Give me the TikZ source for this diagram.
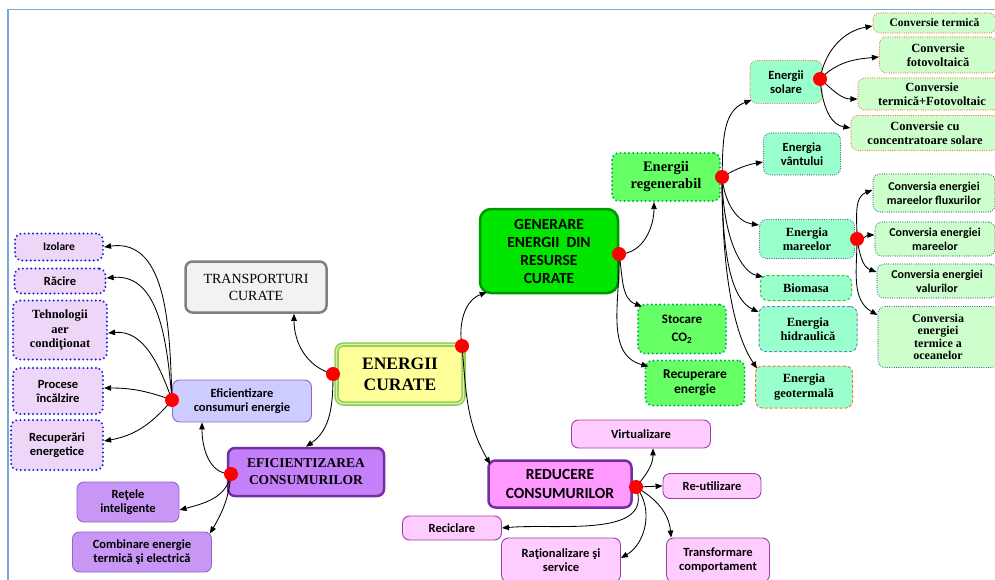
\documentclass[tikz,border=0pt]{standalone}
\usepackage{fontspec}
\setmainfont{Liberation Serif}
\setsansfont{Carlito}
\usetikzlibrary{arrows.meta}

% palette
\definecolor{frameblue}{RGB}{123,167,212}
\definecolor{dotblue}{RGB}{30,30,215}
\definecolor{lilac}{RGB}{238,214,248}
\definecolor{lavender}{RGB}{204,204,255}
\definecolor{lavline}{RGB}{150,100,200}
\definecolor{violetfill}{RGB}{196,128,248}
\definecolor{violetsoft}{RGB}{200,150,245}
\definecolor{darkviolet}{RGB}{112,48,160}
\definecolor{pinkfill}{RGB}{255,153,255}
\definecolor{lightpink}{RGB}{255,204,255}
\definecolor{pinkline}{RGB}{160,60,170}
\definecolor{greenfill}{RGB}{0,230,0}
\definecolor{greenline}{RGB}{0,150,0}
\definecolor{lightgreen}{RGB}{102,255,102}
\definecolor{dotgreen}{RGB}{0,176,80}
\definecolor{aquafill}{RGB}{153,255,204}
\definecolor{palegreen}{RGB}{204,255,204}
\definecolor{orangeline}{RGB}{240,120,60}
\definecolor{slateline}{RGB}{70,100,140}
\definecolor{steelline}{RGB}{90,140,190}
\definecolor{grassline}{RGB}{50,200,50}
\definecolor{yellowfill}{RGB}{255,255,153}
\definecolor{limeline}{RGB}{146,208,80}
\definecolor{limepale}{RGB}{215,240,180}
\definecolor{greyfill}{RGB}{242,242,242}
\definecolor{greyline}{RGB}{128,128,128}

\tikzset{
  sanslbl/.style={font=\sffamily\bfseries\fontsize{12.5}{14}\selectfont},
  conlbl/.style={font=\sffamily\bfseries\fontsize{12}{14}\selectfont},
  seriflbl/.style={font=\rmfamily\bfseries\fontsize{12.5}{14.5}\selectfont},
  base/.style={rounded corners=7pt, align=center, inner sep=1pt},
  dotthick/.style={line width=2.2pt, dash pattern=on 0pt off 4.2pt, line cap=round},
  dotthin/.style={line width=1.2pt, dash pattern=on 0pt off 2.3pt, line cap=round},
  dashthin/.style={line width=1pt, dash pattern=on 3pt off 2pt},
  leftitem/.style={base, sanslbl, fill=lilac, draw=dotblue, dotthick},
  consbox/.style={base, sanslbl, fill=lavender, draw=lavline, line width=0.9pt},
  transbox/.style={base, font=\rmfamily\fontsize{14}{17}\selectfont, fill=greyfill, draw=greyline, line width=2.5pt},
  mainbox/.style={base, font=\rmfamily\bfseries\fontsize{17.5}{21}\selectfont, fill=yellowfill, draw=limeline, double=limepale, double distance=1.3pt, line width=1.6pt},
  violetbox/.style={base, font=\rmfamily\bfseries\fontsize{13.5}{17}\selectfont, fill=violetfill, draw=darkviolet, line width=2.5pt},
  violetitem/.style={base, sanslbl, fill=violetsoft, draw=lavline, line width=0.9pt},
  genbox/.style={base, rounded corners=11pt, font=\sffamily\bfseries\fontsize{15.5}{18}\selectfont, fill=greenfill, draw=greenline, line width=2.5pt},
  greenitem/.style={base, fill=lightgreen, draw=dotgreen, dotthick},
  aquaitem/.style={base, fill=aquafill},
  paleitem/.style={base, fill=palegreen},
  redbox/.style={base, font=\sffamily\bfseries\fontsize{15.5}{19}\selectfont, fill=pinkfill, draw=darkviolet, line width=2.5pt},
  pinkitem/.style={base, sanslbl, fill=lightpink, draw=pinkline, line width=0.9pt},
  conn/.style={-{Triangle[length=7pt,width=5.5pt]}, line width=0.85pt, black},
  reddot/.style={circle, fill=red, inner sep=0pt, minimum size=14pt},
}

\begin{document}
\begin{tikzpicture}[x=1pt, y=-1pt]
\useasboundingbox (0,0) rectangle (995,580);

% page frame
\draw[frameblue, line width=1.5pt] (8,580) -- (8,9.5) -- (995,9.5);

% ---------- efficiency branch (left) ----------
\node[leftitem, font=\sffamily\bfseries\fontsize{11.5}{14}\selectfont, minimum width=88pt, minimum height=27pt] (izol) at (59,247) {Izolare};
\node[leftitem, minimum width=91pt, minimum height=25pt] (racire) at (60,281) {Răcire};
\node[leftitem, seriflbl, minimum width=94pt, minimum height=59pt] (tehno) at (60,330) {Tehnologii\\aer\\condiţionat};
\node[leftitem, minimum width=90pt, minimum height=46pt] (procese) at (58,391) {Procese\\încălzire};
\node[leftitem, minimum width=92pt, minimum height=50pt] (recup) at (57,445) {Recuperări\\energetice};

\node[consbox, minimum width=139pt, minimum height=42pt] (eficons) at (242,401) {Eficientizare\\consumuri energie};
\node[transbox, minimum width=141pt, minimum height=51pt] (transp) at (256,287) {TRANSPORTURI\\CURATE};
\node[mainbox, minimum width=127pt, minimum height=59pt] (energ) at (400,374) {ENERGII\\CURATE};
\node[violetbox, minimum width=156pt, minimum height=48pt] (eficc) at (306,472) {EFICIENTIZAREA\\CONSUMURILOR};
\node[violetitem, minimum width=102pt, minimum height=40pt] (retele) at (128,502) {Reţele\\inteligente};
\node[violetitem, minimum width=139pt, minimum height=40pt] (combin) at (142,552) {Combinare energie\\termică şi electrică};

% ---------- generation branch ----------
\node[genbox, minimum width=138pt, minimum height=84pt] (gen) at (549,251) {GENERARE\\ENERGII\ \ DIN\\RESURSE\\CURATE};
\node[greenitem, font=\rmfamily\bfseries\fontsize{14.5}{17}\selectfont, minimum width=108pt, minimum height=48pt] (regen) at (666,177) {Energii\\regenerabil};
\node[greenitem, font=\sffamily\bfseries\fontsize{13}{18}\selectfont, minimum width=88pt, minimum height=49pt] (stoc) at (682,329) {Stocare\\CO\textsubscript{2}};
\node[greenitem, font=\sffamily\bfseries\fontsize{13.5}{15}\selectfont, minimum width=99pt, minimum height=45pt] (recen) at (695,383) {Recuperare\\energie};

\node[aquaitem, sanslbl, draw=orangeline, dotthin, minimum width=72pt, minimum height=43pt] (solar) at (786,82) {Energii\\solare};
\node[aquaitem, sanslbl, draw=slateline, dotthin, minimum width=77pt, minimum height=42pt] (vant) at (802,154) {Energia\\vântului};
\node[aquaitem, seriflbl, draw=slateline, dotthin, minimum width=95pt, minimum height=39pt] (maree) at (807,239) {Energia\\mareelor};
\node[aquaitem, seriflbl, draw=grassline, dashthin, minimum width=91pt, minimum height=25pt] (biom) at (806,288) {Biomasa};
\node[aquaitem, seriflbl, draw=steelline, dashthin, minimum width=98pt, minimum height=45pt] (hidro) at (808,329) {Energia\\hidraulică};
\node[aquaitem, seriflbl, draw=orangeline, dashthin, minimum width=97pt, minimum height=42pt] (geo) at (804,387) {Energia\\geotermală};

\node[paleitem, font=\rmfamily\bfseries\fontsize{11.5}{14}\selectfont, draw=orangeline, dotthin, minimum width=123pt, minimum height=20pt] (ctermic) at (934.5,23) {Conversie termică};
\node[paleitem, seriflbl, draw=orangeline, dotthin, minimum width=117pt, minimum height=36pt] (cfoto) at (938,55) {Conversie\\fotovoltaică};
\node[paleitem, seriflbl, draw=orangeline, dotthin, minimum width=148pt, minimum height=32pt] (ctf) at (932,94) {Conversie\\termică+Fotovoltaic};
\node[paleitem, seriflbl, draw=orangeline, dotthin, minimum width=148pt, minimum height=35pt] (cconc) at (925,133) {Conversie cu\\concentratoare solare};

\node[paleitem, conlbl, draw=slateline, dotthin, minimum width=122pt, minimum height=38pt] (cflux) at (934,193) {Conversia energiei\\mareelor fluxurilor};
\node[paleitem, conlbl, draw=slateline, dotthin, minimum width=120pt, minimum height=34pt] (cmaree) at (935,239) {Conversia energiei\\mareelor};
\node[paleitem, conlbl, draw=slateline, dotthin, minimum width=120pt, minimum height=34pt] (cval) at (937,281) {Conversia energiei\\valurilor};
\node[paleitem, font=\rmfamily\bfseries\fontsize{12}{12.5}\selectfont, draw=slateline, dotthin, minimum width=120pt, minimum height=61pt] (cocean) at (938,337) {Conversia\\energiei\\termice a\\oceanelor};

% ---------- reduction branch ----------
\node[redbox, minimum width=143pt, minimum height=47pt] (reduc) at (560,484) {REDUCERE\\CONSUMURILOR};
\node[pinkitem, minimum width=139pt, minimum height=28pt] (virt) at (641,434) {Virtualizare};
\node[pinkitem, minimum width=98pt, minimum height=25pt] (reut) at (712,486) {Re-utilizare};
\node[pinkitem, minimum width=99pt, minimum height=24pt] (recic) at (452,528) {Reciclare};
\node[pinkitem, minimum width=119pt, minimum height=44pt] (ration) at (561,560) {Raţionalizare şi\\service};
\node[pinkitem, minimum width=103pt, minimum height=44pt] (transf) at (718,560) {Transformare\\comportament};

% ---------- branching points ----------
\coordinate (pEnL) at (333,374);
\coordinate (pEnR) at (462,346);
\coordinate (pEfic) at (231,474);
\coordinate (pCons) at (172,400);
\coordinate (pGen) at (619,254);
\coordinate (pReg) at (722,177);
\coordinate (pSol) at (820,79);
\coordinate (pMar) at (857,239);
\coordinate (pRed) at (636,487);

% ---------- connectors ----------
\draw[conn] (pEnL) to[out=165, in=-90] ([xshift=38pt]transp.south);
\draw[conn] (pEnL) to[out=-90, in=35] (eficc.north);
\draw[conn] (pEnR) to[out=100, in=200] ([xshift=8pt,yshift=2pt]gen.south west);
\draw[conn] (pEnR) to[out=-85, in=120] ([xshift=3pt,yshift=-5pt]reduc.north west);

\draw[conn] (pEfic) to[out=180, in=-90] ([xshift=-40pt]eficons.south);
\draw[conn] (pEfic) to[out=-100, in=15] ([yshift=-8pt]retele.east);
\draw[conn] (pEfic) to[out=-95, in=60] ([xshift=-2pt,yshift=-2pt]combin.north east);

\draw[conn] (pCons) to[out=92, in=8] (izol.east);
\draw[conn] (pCons) to[out=95, in=5] ([yshift=3pt]racire.east);
\draw[conn] (pCons) to[out=110, in=5] ([yshift=-3pt]tehno.east);
\draw[conn] (pCons) to[out=160, in=0] ([yshift=3pt]procese.east);
\draw[conn] (pCons) to[out=-130, in=10] ([yshift=4pt]recup.east);

\draw[conn] (pGen) to[out=0, in=-90] ([xshift=-12pt]regen.south);
\draw[conn] (pGen) to[out=-80, in=160] ([xshift=5pt,yshift=-3pt]stoc.north west);
\draw[conn] (pGen) to[out=-88, in=165] ([xshift=4pt,yshift=-7pt]recen.north west);

\draw[conn] (pReg) to[out=88, in=200] ([xshift=2pt,yshift=4pt]solar.south west);
\draw[conn] (pReg) to[out=30, in=190] ([yshift=-8pt]vant.west);
\draw[conn] (pReg) .. controls (725,205) and (738,222) .. ([yshift=14pt]maree.west);
\draw[conn] (pReg) .. controls (723,240) and (742,272) .. ([xshift=3pt,yshift=-2pt]biom.north west);
\draw[conn] (pReg) .. controls (722,262) and (733,300) .. ([yshift=17pt]hidro.west);
\draw[conn] (pReg) .. controls (722,290) and (738,340) .. ([xshift=2pt,yshift=-3pt]geo.north west);

\draw[conn] (pSol) to[out=80, in=190] ([yshift=-3pt]ctermic.west);
\draw[conn] (pSol) to[out=45, in=185] ([yshift=-2pt]cfoto.west);
\draw[conn] (pSol) to[out=-40, in=180] ([yshift=-5pt]ctf.west);
\draw[conn] (pSol) to[out=-85, in=170] ([yshift=5pt]cconc.west);

\draw[conn] (pMar) to[out=90, in=200] ([yshift=3pt]cflux.west);
\draw[conn] (pMar) to[out=0, in=180] ([yshift=4pt]cmaree.west);
\draw[conn] (pMar) to[out=-80, in=160] ([yshift=9pt]cval.west);
\draw[conn] (pMar) to[out=-90, in=150] ([yshift=22pt]cocean.west);

\draw[conn] (pRed) to[out=50, in=-90] ([xshift=12pt]virt.south);
\draw[conn] (pRed) -- (reut.west);
\draw[conn] (pRed) to[out=-70, in=5] (recic.east);
\draw[conn] (pRed) to[out=-50, in=30] ([yshift=2pt]ration.east);
\draw[conn] (pRed) to[out=-30, in=95] ([xshift=5pt]transf.north west);

% red markers on the branching points
\foreach \p in {pEnL,pEnR,pEfic,pCons,pGen,pReg,pSol,pMar,pRed}
  \node[reddot] (\p-mark) at (\p) {};
\end{tikzpicture}
\end{document}
